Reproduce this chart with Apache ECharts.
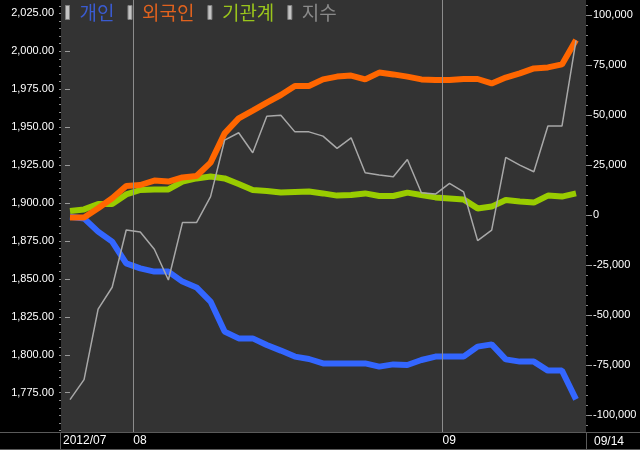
<!DOCTYPE html>
<html>
<head>
<meta charset="utf-8">
<script src="https://cdn.jsdelivr.net/npm/echarts@6/dist/echarts.min.js"></script>
<style>
html,body{margin:0;padding:0;background:#000;}
#chart{width:640px;height:450px;}
</style>
</head>
<body>
<div id="chart"></div>
<script>
// Trading days 2012-07-25 .. 2012-09-14
const dates = ['07/25','07/26','07/27','07/30','07/31',
  '08/01','08/02','08/03','08/06','08/07','08/08','08/09','08/10','08/13','08/14','08/16','08/17',
  '08/20','08/21','08/22','08/23','08/24','08/27','08/28','08/29','08/30','08/31',
  '09/03','09/04','09/05','09/06','09/07','09/10','09/11','09/12','09/13','09/14'];

// KOSPI index (left axis)
const kospi = [1770.4,1783.6,1830.1,1844.5,1882.2,1880.9,1869.5,1849.3,1887.1,1887.1,
  1904.2,1941.4,1946.3,1933.1,1957.2,1957.9,1946.9,1946.9,1944.1,1936.0,
  1943.0,1920.0,1918.4,1917.3,1928.7,1906.8,1905.9,1913.0,1907.4,1875.2,
  1882.2,1930.1,1925.0,1920.6,1950.7,1950.7,2007.2];

// Cumulative net buying (right axis)
const individual = [-900,-1700,-8300,-13300,-24200,-26700,-28300,-28300,-33300,-36200,
  -43300,-58300,-61700,-61700,-65000,-67800,-70800,-72000,-74200,-74200,
  -74200,-74200,-75800,-74700,-75000,-72500,-70800,-70800,-70800,-65800,
  -64700,-72200,-73300,-73300,-77800,-77800,-92200];
const foreign = [-1200,-1200,3400,8400,14500,15000,17200,16700,18800,19500,
  26200,40800,48300,52200,56200,60000,64500,64500,67800,69200,
  69700,67800,71200,70300,69200,67800,67500,67500,68000,68000,
  65800,68700,70800,73300,73800,75300,87500];
const institution = [2000,2800,5500,5500,10300,12500,12800,12800,16700,18300,
  19200,18300,15500,12500,12000,11200,11500,11700,10800,9700,
  10000,10800,9500,9500,11200,10000,8800,8300,7800,3300,
  4200,7500,6700,6200,9700,9200,10800];

const seriesNames = ['개인','외국인','기관계','지수'];
const leftTicks = [1775,1800,1825,1850,1875,1900,1925,1950,1975,2000,2025];
const rightTicks = [-100000,-75000,-50000,-25000,0,25000,50000,75000,100000];
const monthLabels = ['2012/07','08','09'];
const lastDateLabel = '09/14';

// month boundaries (between days) derived from dates
const monthBounds = [-0.5];
for (let i = 1; i < dates.length; i++) {
  if (dates[i].slice(0,2) !== dates[i-1].slice(0,2)) monthBounds.push(i - 0.5);
}
const pts = arr => arr.map((v, i) => [i, v]);

const leftMinor = [];
for (let v = 1750; v <= 2030; v += 5) leftMinor.push(v);
const rightMinor = [];
for (let v = -105000; v <= 105000; v += 5000) rightMinor.push(v);

const chart = echarts.init(document.getElementById('chart'), null, {renderer: 'canvas'});
const fmtL = v => v.toLocaleString('en-US', {minimumFractionDigits: 2, maximumFractionDigits: 2});
const fmtR = v => v.toLocaleString('en-US');
const labelFont = 'Liberation Sans';

chart.setOption({
  backgroundColor: '#000',
  animation: false,
  grid: {left: 61, right: 54, top: 0, bottom: 18, show: true, backgroundColor: '#333333', borderWidth: 0},
  legend: {
    left: 65, top: 3, padding: 0, icon: 'rect', itemWidth: 4, itemHeight: 14, itemGap: 13,
    itemStyle: {color: '#c4c4c4', borderColor: '#808080', borderWidth: 1},
    textStyle: {fontFamily: 'Noto Sans CJK KR', fontSize: 19, padding: [0, 0, 0, 5]},
    data: [
      {name: seriesNames[0], textStyle: {color: '#3a5bd0'}},
      {name: seriesNames[1], textStyle: {color: '#e0621e'}},
      {name: seriesNames[2], textStyle: {color: '#9ac51c'}},
      {name: seriesNames[3], textStyle: {color: '#8a8a8a'}}
    ]
  },
  xAxis: {
    type: 'value', min: -0.64, max: 36.71,
    axisLine: {show: false}, axisTick: {show: false}, splitLine: {show: false},
    axisLabel: {
      customValues: monthBounds, align: 'left', margin: 3,
      color: '#ffffff', fontFamily: labelFont, fontSize: 12,
      formatter: v => monthLabels[monthBounds.indexOf(v)] || ''
    }
  },
  yAxis: [
    {
      type: 'value', position: 'left', min: 1749.1, max: 2033.8,
      axisLine: {show: false}, splitLine: {show: false},
      axisTick: {show: true, customValues: leftTicks, length: 5, lineStyle: {color: '#9a9a9a'}},
      axisLabel: {customValues: leftTicks, margin: 7, color: '#ffffff', fontFamily: labelFont, fontSize: 11, formatter: fmtL}
    },
    {
      type: 'value', position: 'right', min: -108500, max: 107500,
      axisLine: {show: false}, splitLine: {show: false},
      axisTick: {show: true, customValues: rightTicks, length: 6, lineStyle: {color: '#9a9a9a'}},
      axisLabel: {customValues: rightTicks, margin: 7, color: '#ffffff', fontFamily: labelFont, fontSize: 11, formatter: fmtR}
    },
    {
      type: 'value', position: 'left', min: 1749.1, max: 2033.8,
      axisLine: {show: false}, splitLine: {show: false}, axisLabel: {show: false},
      axisTick: {show: true, customValues: leftMinor, length: 2, lineStyle: {color: '#8a8a8a'}}
    },
    {
      type: 'value', position: 'right', min: -108500, max: 107500,
      axisLine: {show: false}, splitLine: {show: false}, axisLabel: {show: false},
      axisTick: {show: true, customValues: rightMinor, length: 2, lineStyle: {color: '#8a8a8a'}}
    }
  ],
  graphic: [
    {type: 'line', shape: {x1: 0, y1: 432.5, x2: 640, y2: 432.5}, style: {stroke: '#5a5a5a', lineWidth: 1}, z: 100},
    {type: 'line', shape: {x1: 0, y1: 449.5, x2: 640, y2: 449.5}, style: {stroke: '#5a5a5a', lineWidth: 1}, z: 100},
    {type: 'line', shape: {x1: 60.5, y1: 432, x2: 60.5, y2: 450}, style: {stroke: '#5a5a5a', lineWidth: 1}, z: 100},
    {type: 'line', shape: {x1: 586.5, y1: 432, x2: 586.5, y2: 450}, style: {stroke: '#5a5a5a', lineWidth: 1}, z: 100},
    {type: 'text', left: 594, top: 436, style: {text: lastDateLabel, fill: '#ffffff', font: '12px "Liberation Sans"'}, z: 100}
  ],
  series: [
    {
      name: seriesNames[2], type: 'line', yAxisIndex: 1, data: pts(institution),
      symbol: 'none', lineStyle: {color: '#99cc00', width: 6}, itemStyle: {color: '#99cc00'}, z: 2,
      markLine: {
        silent: true, symbol: ['none', 'none'], label: {show: false},
        lineStyle: {color: '#8c8c8c', width: 1, type: 'solid'},
        data: monthBounds.slice(1).map(b => ({xAxis: b}))
      }
    },
    {name: seriesNames[0], type: 'line', yAxisIndex: 1, data: pts(individual),
      symbol: 'none', lineStyle: {color: '#3366ff', width: 6}, itemStyle: {color: '#3366ff'}, z: 3},
    {name: seriesNames[1], type: 'line', yAxisIndex: 1, data: pts(foreign),
      symbol: 'none', lineStyle: {color: '#ff6600', width: 6}, itemStyle: {color: '#ff6600'}, z: 4},
    {name: seriesNames[3], type: 'line', yAxisIndex: 0, data: pts(kospi),
      symbol: 'none', lineStyle: {color: '#a8a8a8', width: 1.5}, itemStyle: {color: '#a8a8a8'}, z: 5}
  ]
});
</script>
</body>
</html>
